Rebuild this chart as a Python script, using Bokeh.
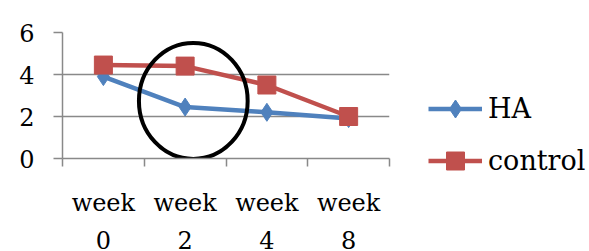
from bokeh.plotting import figure
from bokeh.models import (Range1d, FixedTicker, LinearAxis, Legend, LegendItem)
from bokeh.embed import file_html
from bokeh.resources import INLINE

weeks = ["0", "2", "4", "8"]
ha = [3.9, 2.45, 2.2, 1.9]
control = [4.45, 4.4, 3.5, 2.0]
y_ticks = [0, 2, 4, 6]

# highlight ellipse annotation (data units)
circ_x, circ_y, circ_w, circ_h = 1.6, 2.74, 1.33, 5.52

BLUE = "#4F81BD"
RED = "#C0504D"
GRAY = "#898989"
FONT = "DejaVu Serif"
FS = "24px"

xs = [i + 0.5 for i in range(len(weeks))]

p = figure(frame_width=327, frame_height=126, output_backend="svg",
           toolbar_location=None, x_range=Range1d(0, len(weeks)),
           y_range=Range1d(0, 6), x_axis_location=None, y_axis_location=None,
           min_border_left=62, min_border_top=32, min_border_right=200,
           min_border_bottom=93)
p.outline_line_color = None
p.xgrid.visible = False
p.ygrid.ticker = FixedTicker(ticks=y_ticks)
p.ygrid.grid_line_color = GRAY
p.ygrid.grid_line_width = 1.5

yax = LinearAxis(ticker=FixedTicker(ticks=y_ticks))
yax.major_tick_out = 9
yax.major_tick_in = 0
yax.minor_tick_out = 0
yax.major_tick_line_color = GRAY
yax.major_tick_line_width = 1.5
yax.axis_line_color = GRAY
yax.axis_line_width = 1.5
yax.major_label_standoff = 19
yax.major_label_text_font = FONT
yax.major_label_text_font_size = FS
yax.major_label_text_color = "black"
p.add_layout(yax, "left")

xax = LinearAxis(ticker=FixedTicker(ticks=xs, minor_ticks=list(range(len(weeks) + 1))))
xax.major_label_overrides = {x: "week" for x in xs}
xax.major_tick_out = 0
xax.major_tick_in = 0
xax.minor_tick_out = 8
xax.minor_tick_in = 0
xax.minor_tick_line_color = GRAY
xax.minor_tick_line_width = 1.5
xax.axis_line_color = GRAY
xax.axis_line_width = 1.5
xax.major_label_standoff = 22
xax.major_label_text_font = FONT
xax.major_label_text_font_size = FS
xax.major_label_text_color = "black"
p.add_layout(xax, "below")

xax2 = LinearAxis(ticker=FixedTicker(ticks=xs))
xax2.major_label_overrides = {x: w for x, w in zip(xs, weeks)}
xax2.major_tick_out = 0
xax2.major_tick_in = 0
xax2.minor_tick_out = 0
xax2.axis_line_color = None
xax2.major_label_standoff = 11
xax2.major_label_text_font = FONT
xax2.major_label_text_font_size = FS
xax2.major_label_text_color = "black"
p.add_layout(xax2, "below")

l1 = p.line(xs, ha, line_color=BLUE, line_width=4.5)
m1 = p.scatter(xs, ha, marker="diamond", size=18, fill_color=BLUE, line_color=BLUE)
l2 = p.line(xs, control, line_color=RED, line_width=4.5)
m2 = p.scatter(xs, control, marker="square", size=18, fill_color=RED, line_color=RED)

p.ellipse(x=[circ_x], y=[circ_y], width=circ_w, height=circ_h,
          fill_color=None, line_color="black", line_width=4)

legend = Legend(items=[LegendItem(label="HA", renderers=[l1, m1]),
                       LegendItem(label="control", renderers=[l2, m2])],
                location=(39, -25), glyph_width=54, glyph_height=45,
                spacing=7, padding=0, margin=0, label_standoff=6,
                label_text_font=FONT, label_text_font_size="27px",
                label_text_color="black",
                border_line_color=None, background_fill_alpha=0)
p.add_layout(legend, "right")

open("out.html", "w").write(file_html(p, INLINE))
